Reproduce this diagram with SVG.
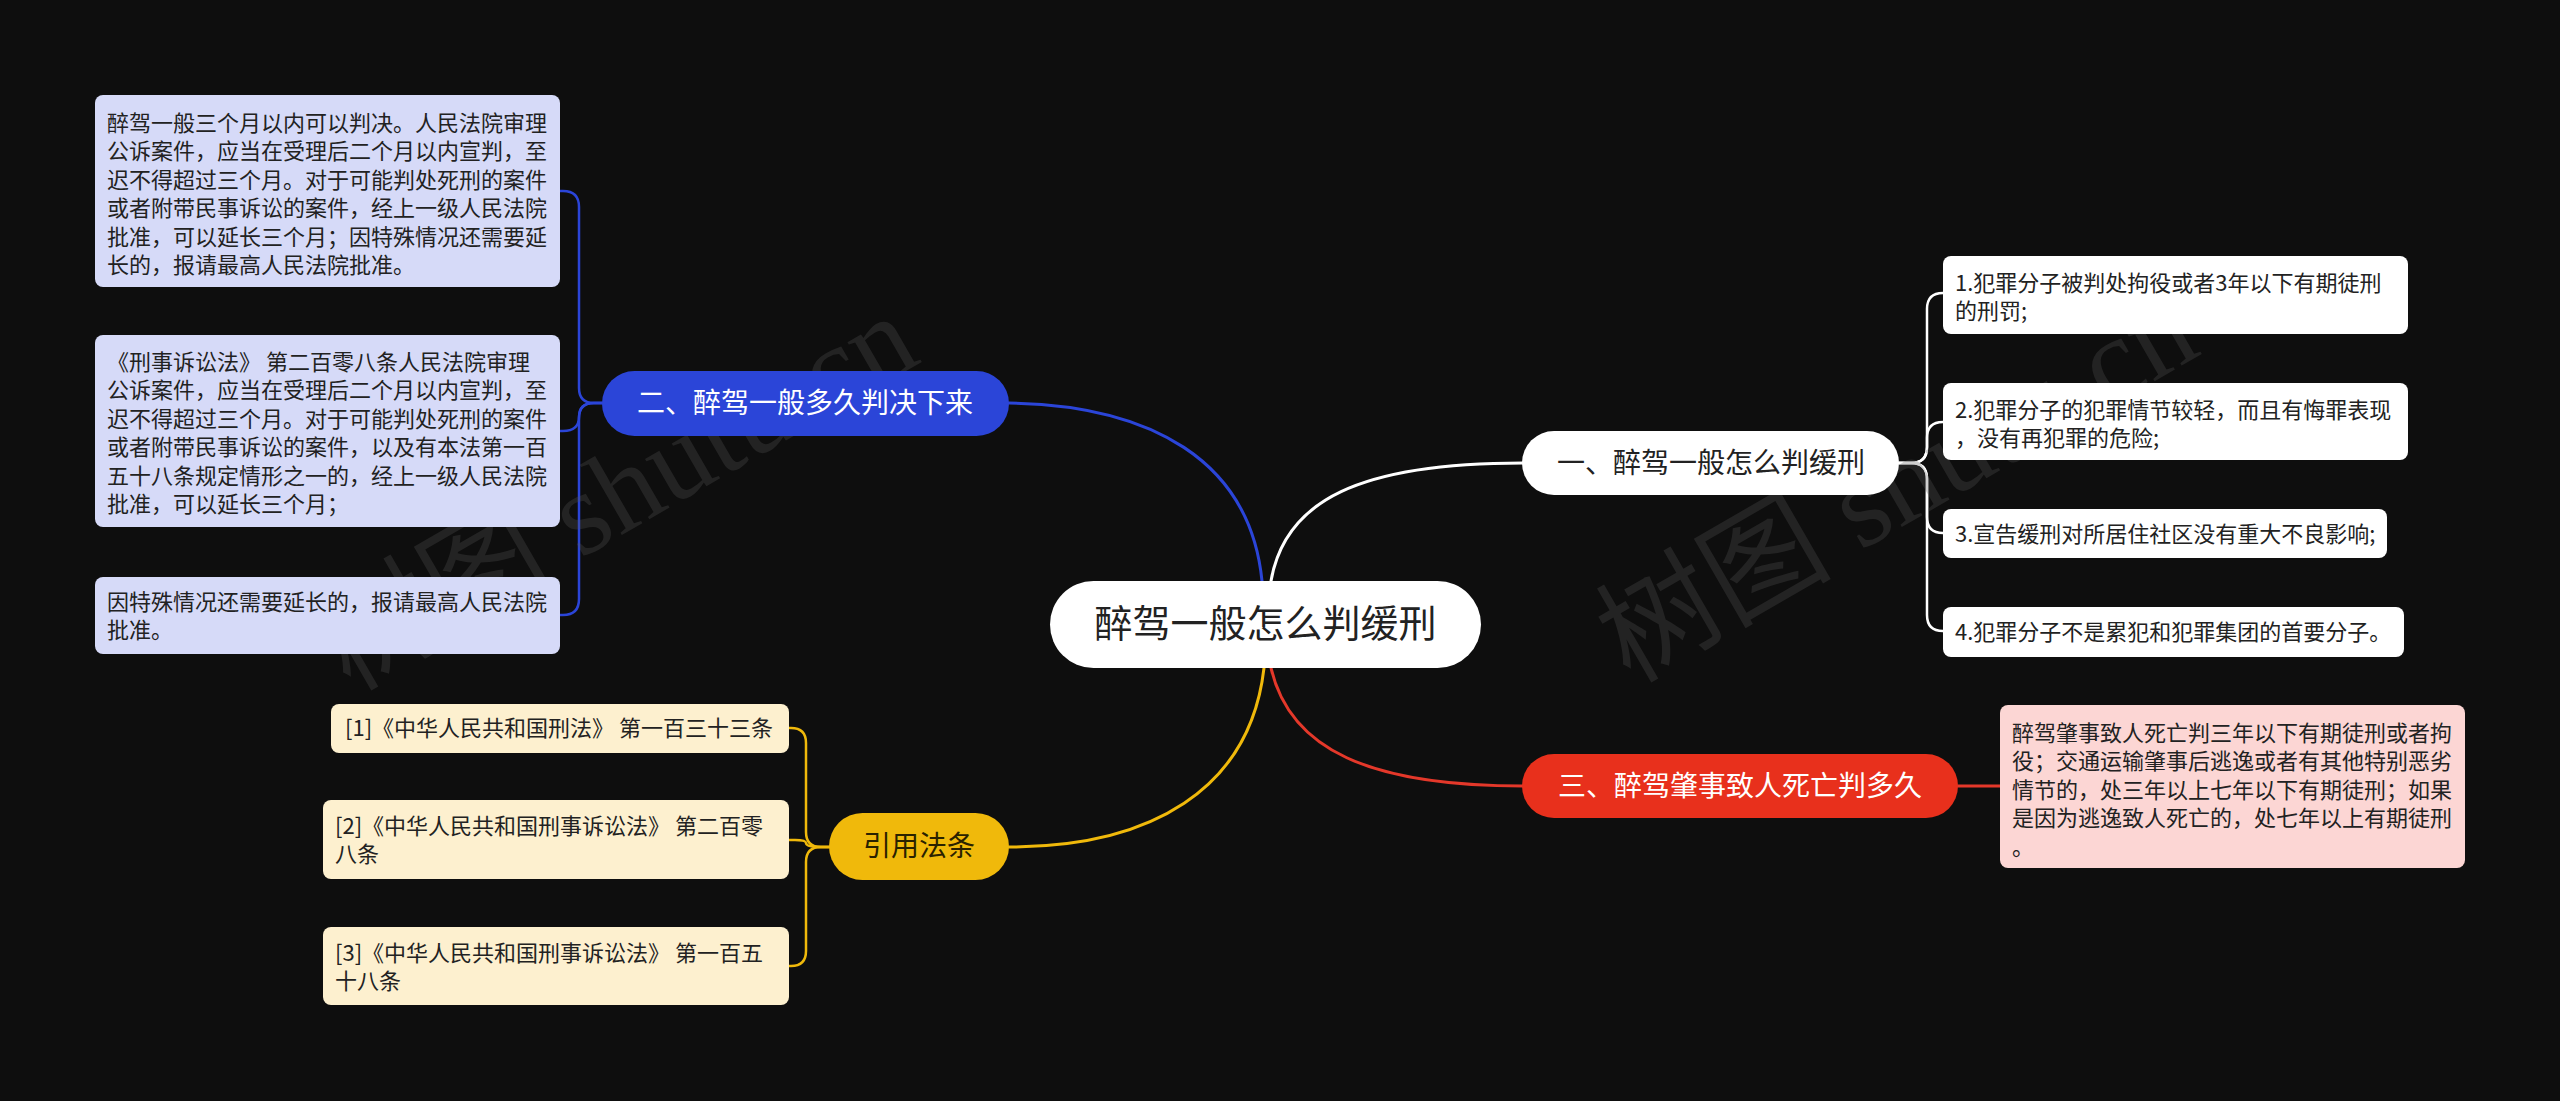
<svg xmlns="http://www.w3.org/2000/svg" width="2560" height="1101" viewBox="0 0 2560 1101">
<style>
text{font-family:"Noto Sans CJK SC","Noto Sans",sans-serif;}
.leaf{font-size:22px;fill:#222;}
.br{font-size:28px;text-anchor:middle;}
.wm{font-family:"Liberation Serif","Noto Sans CJK SC",serif;font-size:118px;fill:#5a5a5a;opacity:0.28;}
.c{fill:none;stroke-width:3;stroke-linecap:round;}
.k{fill:none;stroke-width:2.5;stroke-linecap:round;}
</style>
<rect width="2560" height="1101" fill="#0e0e0e"/>
<g id="connectors">
<path class="c" stroke="#2B45D8" d="M1262,581 C1250,460 1150,405 1009,403"/>
<path class="c" stroke="#ffffff" d="M1271,581 C1285,500 1360,463 1523,463"/>
<path class="c" stroke="#F0B90B" d="M1264,668 C1250,790 1150,847 1009,847"/>
<path class="c" stroke="#E4382A" d="M1271,668 C1290,750 1370,786 1523,786"/>
<path class="c" stroke="#E4382A" d="M1958,786 H2000"/>
<path class="k" stroke="#2B45D8" d="M602,403 H594 Q579,403 579,388 V207 Q579,191 563,191 H560"/>
<path class="k" stroke="#2B45D8" d="M602,403 H594 Q579,403 579,417 Q579,431 563,431 H560"/>
<path class="k" stroke="#2B45D8" d="M602,403 H594 Q579,403 579,418 V599 Q579,615 563,615 H560"/>
<path class="k" stroke="#ffffff" d="M1899,463 H1911 Q1927,463 1927,447 V309 Q1927,293 1943,293"/>
<path class="k" stroke="#ffffff" d="M1899,463 H1911 Q1927,463 1927,447 V438 Q1927,422 1943,422"/>
<path class="k" stroke="#ffffff" d="M1899,463 H1911 Q1927,463 1927,479 V517 Q1927,533 1943,533"/>
<path class="k" stroke="#ffffff" d="M1899,463 H1911 Q1927,463 1927,479 V615 Q1927,631 1943,631"/>
<path class="k" stroke="#F0B90B" d="M829,847 H821 Q806,847 806,832 V743 Q806,728 791,728 H789"/>
<path class="k" stroke="#F0B90B" d="M829,847 H821 Q806,847 806,843 Q806,840 795,840 H789"/>
<path class="k" stroke="#F0B90B" d="M829,847 H821 Q806,847 806,862 V951 Q806,966 791,966 H789"/>
</g>
<g id="watermark">
<text class="wm" transform="translate(350,692) rotate(-30)">树图 shutu.cn</text>
<text class="wm" transform="translate(1630,684) rotate(-30)">树图 shutu.cn</text>
</g>
<g id="center">
<rect x="1050" y="581" width="431" height="87" rx="43.5" fill="#ffffff"/>
<text x="1265.5" y="637" font-size="38" text-anchor="middle" fill="#222">醉驾一般怎么判缓刑</text>
</g>
<g id="branch1">
<rect x="1522" y="431" width="377" height="64" rx="32" fill="#ffffff"/>
<text class="br" x="1711" y="473" fill="#222">一、醉驾一般怎么判缓刑</text>
</g>
<g id="branch2">
<rect x="602" y="371" width="407" height="65" rx="32.5" fill="#2B45D8"/>
<text class="br" x="805" y="413" fill="#ffffff">二、醉驾一般多久判决下来</text>
</g>
<g id="branch3">
<rect x="1522" y="754" width="436" height="64" rx="32" fill="#E8301C"/>
<text class="br" x="1740" y="796" fill="#ffffff">三、醉驾肇事致人死亡判多久</text>
</g>
<g id="branch4">
<rect x="829" y="813" width="180" height="67" rx="33.5" fill="#F0B90B"/>
<text class="br" x="919" y="856" fill="#2a2200">引用法条</text>
</g>
<g id="leaf-a">
<rect x="95" y="95" width="465" height="192" rx="8" fill="#D6DAF8"/>
<text class="leaf"><tspan x="107" y="131">醉驾一般三个月以内可以判决。人民法院审理</tspan><tspan x="107" y="159.4">公诉案件，应当在受理后二个月以内宣判，至</tspan><tspan x="107" y="187.8">迟不得超过三个月。对于可能判处死刑的案件</tspan><tspan x="107" y="216.2">或者附带民事诉讼的案件，经上一级人民法院</tspan><tspan x="107" y="244.6">批准，可以延长三个月；因特殊情况还需要延</tspan><tspan x="107" y="273">长的，报请最高人民法院批准。</tspan></text>
</g>
<g id="leaf-b">
<rect x="95" y="335" width="465" height="192" rx="8" fill="#D6DAF8"/>
<text class="leaf"><tspan x="107" y="370">《刑事诉讼法》 第二百零八条人民法院审理</tspan><tspan x="107" y="398.4">公诉案件，应当在受理后二个月以内宣判，至</tspan><tspan x="107" y="426.8">迟不得超过三个月。对于可能判处死刑的案件</tspan><tspan x="107" y="455.2">或者附带民事诉讼的案件，以及有本法第一百</tspan><tspan x="107" y="483.6">五十八条规定情形之一的，经上一级人民法院</tspan><tspan x="107" y="512">批准，可以延长三个月；</tspan></text>
</g>
<g id="leaf-c">
<rect x="95" y="577" width="465" height="77" rx="8" fill="#D6DAF8"/>
<text class="leaf"><tspan x="107" y="610">因特殊情况还需要延长的，报请最高人民法院</tspan><tspan x="107" y="638.4">批准。</tspan></text>
</g>
<g id="leaf-1">
<rect x="1943" y="256" width="465" height="78" rx="8" fill="#ffffff"/>
<text class="leaf"><tspan x="1955" y="291">1.犯罪分子被判处拘役或者3年以下有期徒刑</tspan><tspan x="1955" y="319">的刑罚;</tspan></text>
</g>
<g id="leaf-2">
<rect x="1943" y="383" width="465" height="77" rx="8" fill="#ffffff"/>
<text class="leaf"><tspan x="1955" y="418">2.犯罪分子的犯罪情节较轻，而且有悔罪表现</tspan><tspan x="1955" y="446">，没有再犯罪的危险;</tspan></text>
</g>
<g id="leaf-3">
<rect x="1943" y="509" width="444" height="49" rx="8" fill="#ffffff"/>
<text class="leaf" x="1955" y="542">3.宣告缓刑对所居住社区没有重大不良影响;</text>
</g>
<g id="leaf-4">
<rect x="1943" y="607" width="461" height="50" rx="8" fill="#ffffff"/>
<text class="leaf" x="1955" y="640">4.犯罪分子不是累犯和犯罪集团的首要分子。</text>
</g>
<g id="leaf-red">
<rect x="2000" y="705" width="465" height="163" rx="8" fill="#FCD6D4"/>
<text class="leaf"><tspan x="2012" y="741">醉驾肇事致人死亡判三年以下有期徒刑或者拘</tspan><tspan x="2012" y="769.4">役；交通运输肇事后逃逸或者有其他特别恶劣</tspan><tspan x="2012" y="797.8">情节的，处三年以上七年以下有期徒刑；如果</tspan><tspan x="2012" y="826.2">是因为逃逸致人死亡的，处七年以上有期徒刑</tspan><tspan x="2012" y="854.6">。</tspan></text>
</g>
<g id="ref-1">
<rect x="331" y="704" width="458" height="49" rx="8" fill="#FDF0CF"/>
<text class="leaf" x="345" y="736">[1]《中华人民共和国刑法》 第一百三十三条</text>
</g>
<g id="ref-2">
<rect x="323" y="800" width="466" height="79" rx="8" fill="#FDF0CF"/>
<text class="leaf"><tspan x="335" y="834">[2]《中华人民共和国刑事诉讼法》 第二百零</tspan><tspan x="335" y="862">八条</tspan></text>
</g>
<g id="ref-3">
<rect x="323" y="927" width="466" height="78" rx="8" fill="#FDF0CF"/>
<text class="leaf"><tspan x="335" y="961">[3]《中华人民共和国刑事诉讼法》 第一百五</tspan><tspan x="335" y="989">十八条</tspan></text>
</g>
</svg>
